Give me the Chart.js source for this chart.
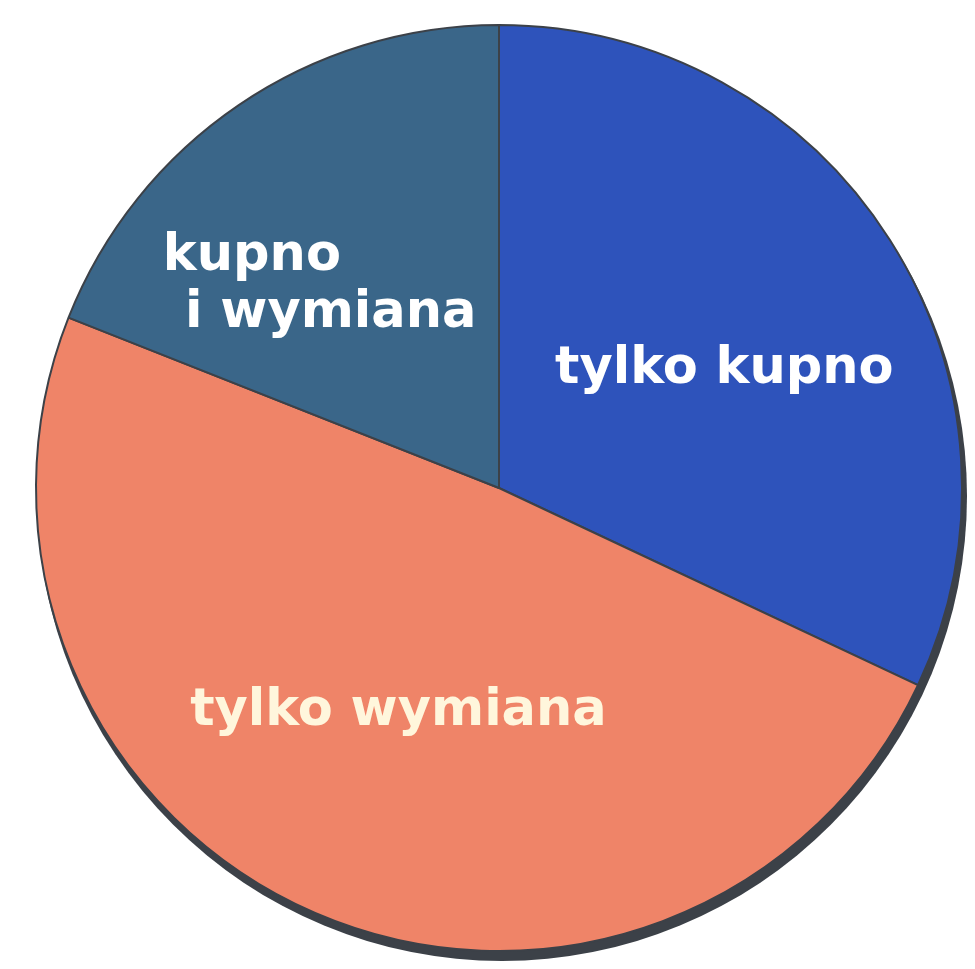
<!DOCTYPE html>
<html lang="pl">
<head>
    <meta charset="UTF-8">
    <title>Kupno i wymiana</title>
    <script src="https://cdn.jsdelivr.net/npm/chart.js"></script>
    <style>
        html, body { margin: 0; padding: 0; background: #ffffff; overflow: hidden; }
        .wykres { width: 975px; height: 969px; }
    </style>
</head>
<body>
    <div class="wykres">
        <canvas id="myChart"></canvas>
    </div>

<script>
    // dane (procenty)
    const kategorie = ['tylko kupno', 'tylko wymiana', 'kupno i wymiana'];
    const wartosci = [32, 49, 19];
    const kolory = ['#2e53bb', '#ef8468', '#3a6689'];

    // opisy: linie tekstu, początek linii i linia bazowa względem środka (ułamek promienia)
    const opisyLinie = [['tylko kupno'], ['tylko wymiana'], ['kupno', 'i wymiana']];
    const opisyX = [[0.121], [-0.667], [-0.726, -0.678]];
    const opisyY = [[-0.227], [0.512], [-0.471, -0.348]];
    const opisyKolor = ['#ffffff', '#fff6dc', '#ffffff'];

    const cien = {
        id: 'cien',
        beforeDatasetsDraw(chart) {
            const arc = chart.getDatasetMeta(0).data[0];
            if (!arc) return;
            const ctx = chart.ctx;
            ctx.save();
            ctx.fillStyle = '#3c4148';
            ctx.beginPath();
            ctx.arc(arc.x + 3, arc.y + 8, arc.outerRadius + 2, 0, Math.PI * 2);
            ctx.fill();
            ctx.restore();
        }
    };

    const opisy = {
        id: 'opisy',
        afterDatasetsDraw(chart) {
            const arc = chart.getDatasetMeta(0).data[0];
            if (!arc) return;
            const ctx = chart.ctx;
            const r = arc.outerRadius;
            ctx.save();
            ctx.font = 'bold 51px "DejaVu Sans", sans-serif';
            ctx.textAlign = 'left';
            ctx.textBaseline = 'alphabetic';
            for (let i = 0; i < opisyLinie.length; i++) {
                ctx.fillStyle = opisyKolor[i];
                for (let j = 0; j < opisyLinie[i].length; j++) {
                    ctx.fillText(opisyLinie[i][j], arc.x + opisyX[i][j] * r, arc.y + opisyY[i][j] * r);
                }
            }
            ctx.restore();
        }
    };

    const data = {
        labels: kategorie,
        datasets: [{
            data: wartosci,
            backgroundColor: kolory,
            borderColor: '#3c4148',
            borderWidth: 2
        }]
    };

    const config = {
        type: 'pie',
        data: data,
        options: {
            responsive: true,
            maintainAspectRatio: false,
            animation: false,
            layout: { padding: { left: 35, right: 12, top: 24, bottom: 17 } },
            plugins: {
                legend: { display: false },
                tooltip: { enabled: false }
            }
        },
        plugins: [cien, opisy]
    };

    const myChart = new Chart(document.getElementById('myChart'), config);
</script>
</body>
</html>
